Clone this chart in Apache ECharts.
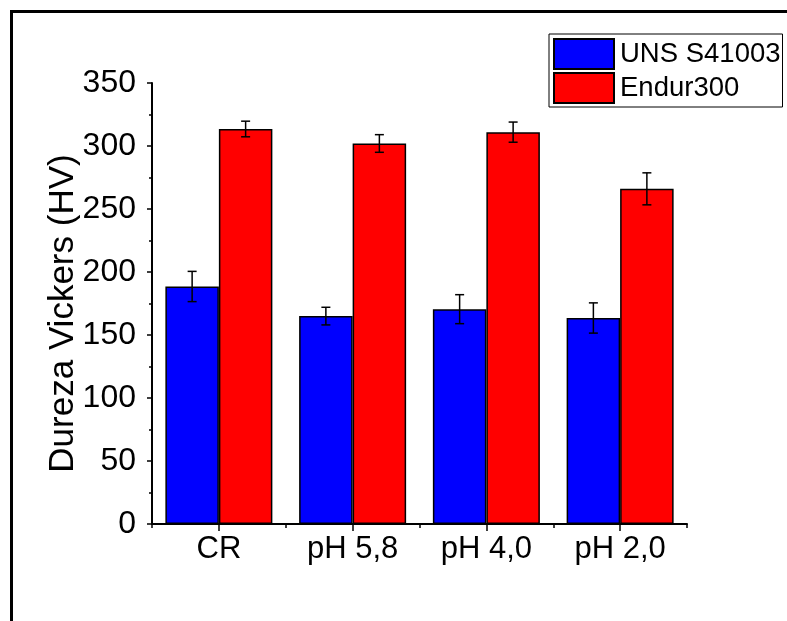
<!DOCTYPE html>
<html>
<head>
<meta charset="utf-8">
<script src="https://cdn.jsdelivr.net/npm/echarts@6/dist/echarts.min.js"></script>
<style>
  html, body { margin: 0; padding: 0; background: #fff; }
  #chart { width: 787px; height: 621px; }
</style>
</head>
<body>
<div id="chart"></div>
<script>
// Vickers hardness by condition
const categories = ['CR', 'pH 5,8', 'pH 4,0', 'pH 2,0'];
const seriesNames = ['UNS S41003', 'Endur300'];
const unsValues = [188.5, 165, 170.5, 163.5];
const unsErrors = [12, 7, 11.5, 12];
const endurValues = [313.5, 302, 311, 266];
const endurErrors = [6.2, 7, 8, 12.7];
const yTicks = [0, 50, 100, 150, 200, 250, 300, 350];

const FONT = 'Liberation Sans, Arial, sans-serif';
const chart = echarts.init(document.getElementById('chart'), null, { renderer: 'canvas' });

const barCategoryGap = 0.2;

// Error bar renderer: offset within category band for the two grouped bars
function errorRenderer(seriesIdx) {
  return function (params, api) {
    const idx = api.value(0);
    const val = api.value(1);
    const err = api.value(2);
    const band = api.size([1, 0])[0];
    const barW = band * (1 - barCategoryGap) / 2;
    const center = api.coord([idx, val]);
    const x = center[0] + (seriesIdx === 0 ? -barW / 2 : barW / 2);
    const yTop = api.coord([idx, val + err])[1];
    const yBot = api.coord([idx, val - err])[1];
    const cap = 4.5;
    const style = { stroke: '#000', lineWidth: 1.5 };
    return {
      type: 'group',
      children: [
        { type: 'line', shape: { x1: x, y1: yTop, x2: x, y2: yBot }, style: style },
        { type: 'line', shape: { x1: x - cap, y1: yTop, x2: x + cap, y2: yTop }, style: style },
        { type: 'line', shape: { x1: x - cap, y1: yBot, x2: x + cap, y2: yBot }, style: style }
      ]
    };
  };
}

function errData(values, errors) {
  return values.map((v, i) => [i, v, errors[i]]);
}

const option = {
  animation: false,
  backgroundColor: '#fff',
  textStyle: { fontFamily: FONT, color: '#000' },
  graphic: [
    {
      type: 'rect',
      shape: { x: 11.5, y: 11.5, width: 820, height: 700 },
      style: { fill: 'none', stroke: '#000', lineWidth: 3 },
      silent: true
    }
  ],
  legend: {
    left: 549,
    top: 34,
    orient: 'vertical',
    data: seriesNames,
    itemWidth: 60,
    itemHeight: 30,
    itemGap: 2,
    padding: [4, 2, 3, 4],
    borderColor: '#000',
    borderWidth: 1,
    icon: 'rect',
    textStyle: { fontFamily: FONT, fontSize: 27.5, lineHeight: 30, color: '#000', padding: [0, 0, 0, 1] }
  },
  grid: { left: 152, right: 100, top: 83, bottom: 97, containLabel: false },
  xAxis: [
    {
      type: 'category',
      data: categories,
      axisLine: { show: true, lineStyle: { color: '#000', width: 2 } },
      axisTick: { show: true, alignWithLabel: false, length: 4, lineStyle: { color: '#000', width: 1.5 } },
      axisLabel: { show: true, fontFamily: FONT, fontSize: 31, color: '#000', margin: 10 },
      splitLine: { show: false }
    },
    {
      type: 'category',
      data: categories,
      position: 'bottom',
      axisLine: { show: false },
      axisTick: { show: true, alignWithLabel: true, length: 7, lineStyle: { color: '#000', width: 1.5 } },
      axisLabel: { show: false },
      splitLine: { show: false }
    }
  ],
  yAxis: {
    type: 'value',
    min: yTicks[0],
    max: yTicks[yTicks.length - 1],
    interval: 50,
    name: 'Dureza Vickers (HV)',
    nameLocation: 'middle',
    nameGap: 71,
    nameMoveOverlap: false,
    nameTextStyle: { fontFamily: FONT, fontSize: 35, color: '#000', padding: [0, 20, 0, 0] },
    axisLine: { show: true, lineStyle: { color: '#000', width: 2 } },
    axisTick: { show: true, inside: false, length: 5, lineStyle: { color: '#000', width: 1.5 } },
    minorTick: { show: true, splitNumber: 2, length: 3, lineStyle: { color: '#000', width: 1.5 } },
    axisLabel: { fontFamily: FONT, fontSize: 32, color: '#000', margin: 16 },
    splitLine: { show: false }
  },
  series: [
    {
      name: seriesNames[0],
      type: 'bar',
      data: unsValues,
      barGap: '0%',
      barCategoryGap: (barCategoryGap * 100) + '%',
      itemStyle: { color: '#0000ff', borderColor: '#000', borderWidth: 1.5 }
    },
    {
      name: seriesNames[1],
      type: 'bar',
      data: endurValues,
      barGap: '0%',
      barCategoryGap: (barCategoryGap * 100) + '%',
      itemStyle: { color: '#ff0000', borderColor: '#000', borderWidth: 1.5 }
    },
    {
      type: 'custom',
      renderItem: errorRenderer(0),
      data: errData(unsValues, unsErrors),
      encode: { x: 0, y: 1 },
      z: 10,
      silent: true
    },
    {
      type: 'custom',
      renderItem: errorRenderer(1),
      data: errData(endurValues, endurErrors),
      encode: { x: 0, y: 1 },
      z: 10,
      silent: true
    }
  ]
};

chart.setOption(option);
</script>
</body>
</html>
